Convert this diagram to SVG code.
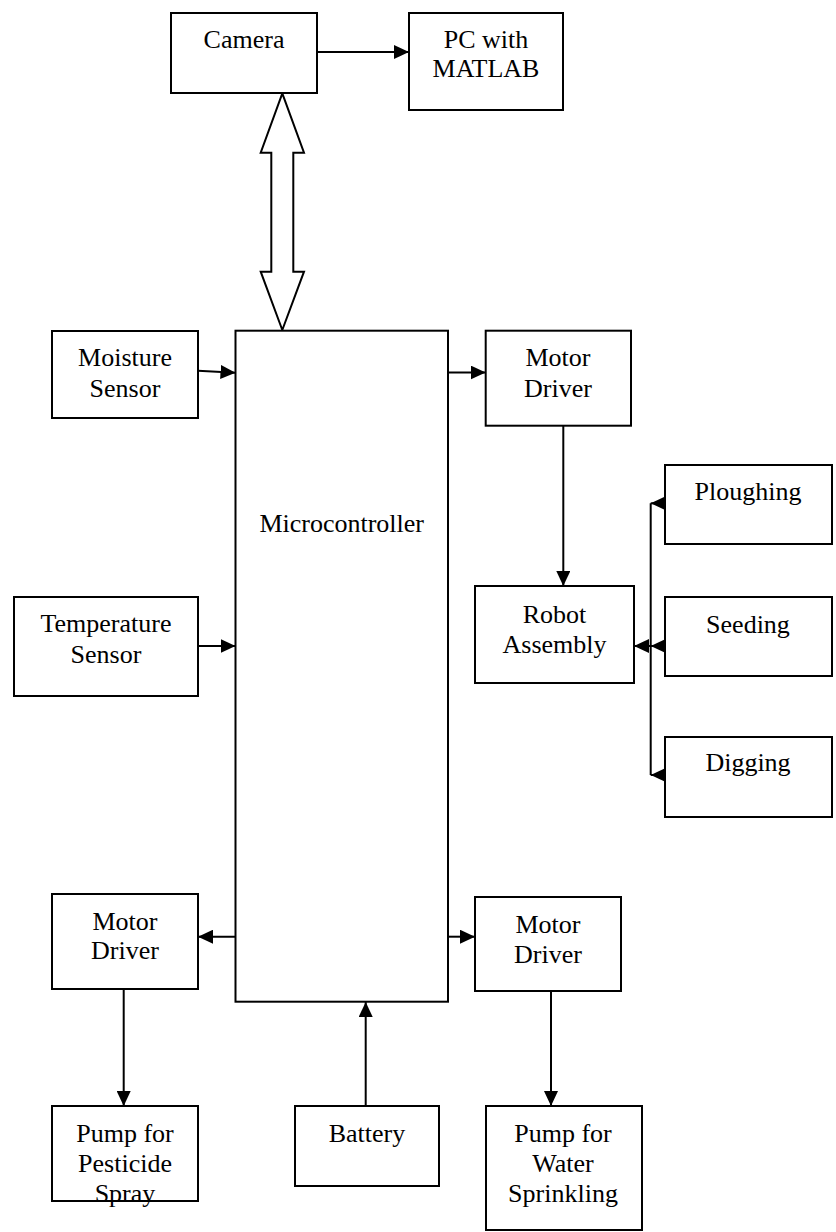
<svg xmlns="http://www.w3.org/2000/svg" width="836" height="1232" viewBox="0 0 836 1232">
<style>
.box{fill:#fff;stroke:#000;stroke-width:2}
.lbl{font-family:"Liberation Serif","Times New Roman",serif;font-size:26px;fill:#000;text-anchor:middle}
.con{stroke:#000;stroke-width:2;fill:none}
</style>
<defs>
<marker id="ah" markerUnits="userSpaceOnUse" markerWidth="16" markerHeight="14" refX="15" refY="7" orient="auto">
<path d="M0,0 L15,7 L0,14 z" fill="#000"/>
</marker>
</defs>
<rect width="836" height="1232" fill="#fff"/>
<g id="connectors">
<line class="con" x1="317" y1="52" x2="409" y2="52" marker-end="url(#ah)"/>
<polygon class="box" points="282.3,93.3 304,152.7 293.3,152.7 293.3,271.7 304,271.7 282.3,330 260.7,271.7 271.3,271.7 271.3,152.7 260.7,152.7"/>
<line class="con" x1="198" y1="370.7" x2="235.5" y2="372.7" marker-end="url(#ah)"/>
<line class="con" x1="448" y1="372.5" x2="485.7" y2="372.5" marker-end="url(#ah)"/>
<line class="con" x1="198" y1="646" x2="235.5" y2="646" marker-end="url(#ah)"/>
<line class="con" x1="563.3" y1="425.7" x2="563.3" y2="586" marker-end="url(#ah)"/>
<line class="con" x1="650.7" y1="503.3" x2="650.7" y2="775"/>
<line class="con" x1="665" y1="503.3" x2="650.7" y2="503.3" marker-end="url(#ah)"/>
<line class="con" x1="665" y1="646" x2="650.7" y2="646" marker-end="url(#ah)"/>
<line class="con" x1="665" y1="775" x2="650.7" y2="775" marker-end="url(#ah)"/>
<line class="con" x1="650.7" y1="646" x2="634" y2="646" marker-end="url(#ah)"/>
<line class="con" x1="235.5" y1="936.7" x2="198" y2="936.7" marker-end="url(#ah)"/>
<line class="con" x1="448" y1="936.7" x2="475" y2="936.7" marker-end="url(#ah)"/>
<line class="con" x1="123.7" y1="989" x2="123.7" y2="1106" marker-end="url(#ah)"/>
<line class="con" x1="551" y1="991" x2="551" y2="1106" marker-end="url(#ah)"/>
<line class="con" x1="365.7" y1="1106" x2="365.7" y2="1002" marker-end="url(#ah)"/>
</g>
<g id="camera"><rect class="box" x="171" y="13" width="146" height="80"/><text class="lbl" x="244" y="48">Camera</text></g>
<g id="pc"><rect class="box" x="409" y="13" width="154" height="97"/><text class="lbl" x="486" y="48">PC with</text><text class="lbl" x="486" y="77">MATLAB</text></g>
<g id="moisture"><rect class="box" x="52" y="331" width="146" height="87"/><text class="lbl" x="125" y="366">Moisture</text><text class="lbl" x="125" y="397">Sensor</text></g>
<g id="micro"><rect class="box" x="235.5" y="330.7" width="212.5" height="671"/><text class="lbl" x="341.7" y="532">Microcontroller</text></g>
<g id="motor-driver-1"><rect class="box" x="485.7" y="330.7" width="145.3" height="95"/><text class="lbl" x="558" y="366">Motor</text><text class="lbl" x="558" y="397">Driver</text></g>
<g id="ploughing"><rect class="box" x="665" y="465" width="167" height="79"/><text class="lbl" x="748" y="500">Ploughing</text></g>
<g id="robot"><rect class="box" x="475" y="586" width="159" height="97"/><text class="lbl" x="554.5" y="622.7">Robot</text><text class="lbl" x="554.5" y="652.7">Assembly</text></g>
<g id="seeding"><rect class="box" x="665" y="597" width="167" height="79"/><text class="lbl" x="748" y="633">Seeding</text></g>
<g id="digging"><rect class="box" x="665" y="737" width="167" height="80"/><text class="lbl" x="748" y="771">Digging</text></g>
<g id="temperature"><rect class="box" x="14" y="597" width="184" height="99"/><text class="lbl" x="106" y="632">Temperature</text><text class="lbl" x="106" y="663">Sensor</text></g>
<g id="motor-driver-2"><rect class="box" x="52" y="894" width="146" height="95"/><text class="lbl" x="125" y="930">Motor</text><text class="lbl" x="125" y="959">Driver</text></g>
<g id="motor-driver-3"><rect class="box" x="475" y="897" width="146" height="94"/><text class="lbl" x="548" y="933">Motor</text><text class="lbl" x="548" y="963">Driver</text></g>
<g id="pump-pesticide"><rect class="box" x="52" y="1106" width="146" height="95"/><text class="lbl" x="125" y="1142">Pump for</text><text class="lbl" x="125" y="1172">Pesticide</text><text class="lbl" x="125" y="1202">Spray</text></g>
<g id="battery"><rect class="box" x="295" y="1106" width="144" height="80"/><text class="lbl" x="367" y="1142">Battery</text></g>
<g id="pump-water"><rect class="box" x="486" y="1106" width="156" height="124"/><text class="lbl" x="563" y="1142">Pump for</text><text class="lbl" x="563" y="1172">Water</text><text class="lbl" x="563" y="1202">Sprinkling</text></g>
</svg>
